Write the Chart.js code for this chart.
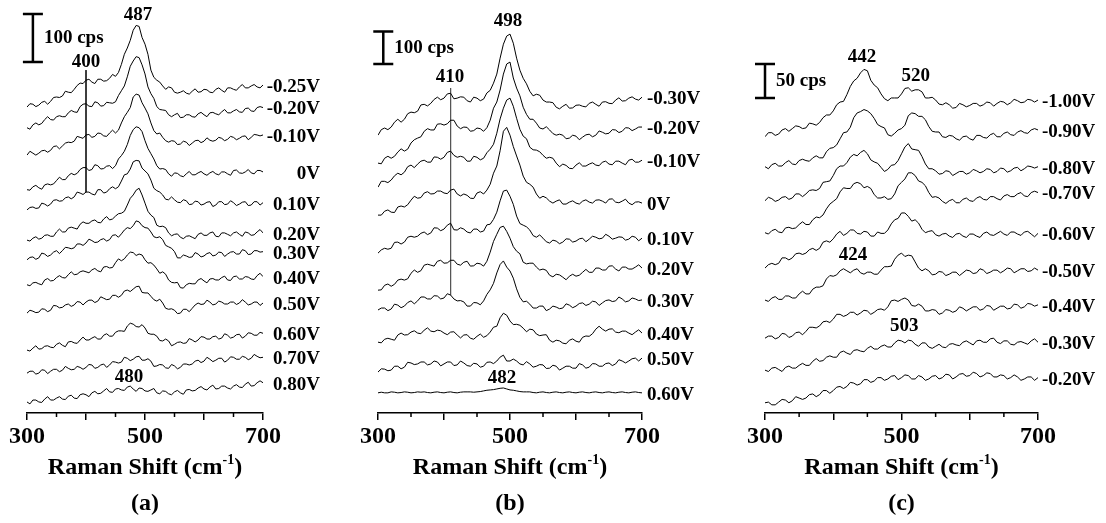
<!DOCTYPE html>
<html lang="en">
<head>
<meta charset="UTF-8">
<title>Raman spectra at different potentials</title>
<script src="https://cdn.jsdelivr.net/npm/chart.js"></script>
<style>
    body { margin: 0; background: #fff; }
    #wrap { position: relative; width: 1106px; height: 523px; background: #fff; overflow: hidden; }
    #wrap canvas { position: absolute; top: 0; }
</style>
</head>
<body>
<div id="wrap">
    <canvas id="panelA" width="340" height="523" style="left:0px"></canvas>
    <canvas id="panelB" width="370" height="523" style="left:340px"></canvas>
    <canvas id="panelC" width="396" height="523" style="left:710px"></canvas>
</div>
<script>
// Raman shift sampling (cm-1), shared by every spectrum
const shift = [300, 305, 310, 315, 320, 325, 330, 335, 340, 345, 350, 355, 360, 365, 370, 375, 380, 385, 390, 395,
               400, 405, 410, 415, 420, 425, 430, 435, 440, 445, 450, 455, 460, 465, 470, 475, 480, 485, 490, 495,
               500, 505, 510, 515, 520, 525, 530, 535, 540, 545, 550, 555, 560, 565, 570, 575, 580, 585, 590, 595,
               600, 605, 610, 615, 620, 625, 630, 635, 640, 645, 650, 655, 660, 665, 670, 675, 680, 685, 690, 695, 700];
const tickLabels = [300, 500, 700];
const minorTicks = [350, 450, 550, 650];

// (a) potentials, vertical offsets (cps) and intensities above offset (cps)
const potentialsA = ['-0.25V', '-0.20V', '-0.10V', '0V', '0.10V', '0.20V', '0.30V', '0.40V', '0.50V', '0.60V', '0.70V', '0.80V'];
const offsetsA = [637, 594, 537, 465, 423, 360, 319, 267, 208, 131, 83, 23];
const spectraA = [
    [0,7,6,1,4,10,12,6,12,20,21,20,23,33,31,30,37,45,50,49,56,58,52,49,58,58,54,55,60,68,64,72,89,110,123,139,160,170,168,145,131,110,77,62,56,52,44,37,42,40,31,29,31,34,29,27,33,38,31,32,37,36,31,30,37,40,35,31,40,40,37,35,42,47,40,40,44,47,42,40,46],
    [0,-3,6,10,6,9,17,23,17,16,23,25,23,23,31,36,33,32,44,49,50,45,44,54,52,45,46,53,52,51,54,67,77,87,106,128,139,148,146,131,112,85,71,61,44,38,37,36,27,23,27,30,21,22,27,27,23,22,29,32,27,23,31,32,29,27,33,38,31,31,35,38,33,32,40,41,35,34,42,44,42],
    [0,8,4,0,4,9,10,6,10,18,19,13,19,25,27,26,29,39,37,35,42,43,37,39,46,45,40,39,46,52,46,52,67,80,89,99,121,127,125,109,98,86,67,51,44,46,37,30,27,30,29,22,23,29,27,20,25,30,31,26,29,36,31,29,31,37,35,30,33,39,37,32,35,39,40,32,37,43,42,40,42],
    [0,-1,6,9,4,1,10,12,10,12,19,26,21,21,29,34,31,34,42,46,46,40,42,52,50,43,44,49,50,44,50,64,71,80,94,113,125,131,129,121,102,86,75,64,50,43,44,42,33,28,35,34,29,27,33,38,31,31,35,38,33,30,35,38,33,31,37,37,33,30,40,41,35,34,37,42,35,33,40,40,37],
    [0,5,6,3,4,14,12,8,12,20,21,18,19,25,27,23,27,37,35,32,37,37,33,31,42,42,35,37,44,48,44,48,60,73,75,85,100,103,102,87,81,75,62,45,40,37,31,22,21,27,21,16,15,21,19,11,12,18,17,10,12,16,17,7,10,17,17,11,12,19,15,9,12,16,17,9,10,17,17,10,15],
    [0,-2,4,7,2,4,10,11,8,8,17,23,17,17,25,27,25,23,33,38,35,35,40,42,37,36,44,49,42,44,50,55,56,60,73,87,94,104,108,94,77,60,52,47,31,28,29,26,15,9,12,13,6,3,8,9,6,3,12,15,10,10,15,17,8,7,15,15,12,9,15,17,12,8,17,15,10,11,17,22,15],
    [0,5,6,1,4,14,12,7,10,16,19,13,19,26,25,23,25,33,33,30,35,43,40,36,37,42,44,39,42,51,52,47,54,62,67,65,71,81,79,71,67,66,58,48,46,48,42,30,27,24,17,4,4,10,8,5,6,15,12,6,8,13,15,8,10,16,15,7,12,16,17,12,12,21,19,11,12,19,19,16,17],
    [0,-2,4,5,2,0,10,13,8,9,15,19,15,14,21,27,21,22,27,29,27,25,31,34,29,27,37,38,35,36,46,54,50,54,62,68,67,61,64,62,52,45,46,41,33,24,27,22,10,5,4,5,-6,-7,0,3,2,2,10,13,8,4,12,13,10,10,15,18,10,9,17,18,12,12,17,16,12,11,19,24,17],
    [0,6,4,1,2,9,8,3,6,16,15,11,12,17,19,14,17,24,23,17,23,27,27,22,25,34,31,28,29,37,37,33,37,46,48,45,50,55,56,43,42,42,35,28,25,29,21,10,8,9,6,-1,0,8,8,3,10,17,21,18,19,27,23,17,19,25,23,19,19,23,23,18,21,28,23,17,19,23,23,16,21],
    [0,-2,4,9,2,3,8,9,6,5,12,15,10,7,17,18,15,14,21,27,21,21,25,28,23,23,31,34,29,29,37,40,40,39,50,56,54,49,48,53,46,35,33,33,29,20,19,23,19,9,12,16,17,14,15,24,21,17,21,28,27,23,23,28,29,23,25,34,31,25,27,32,33,25,29,36,35,31,31,37,35],
    [0,4,4,-2,0,7,6,-1,4,8,8,3,6,14,10,7,8,14,12,8,12,18,17,10,12,17,19,12,17,24,23,21,23,33,31,26,29,34,35,27,27,30,25,14,15,18,17,11,10,18,15,9,12,19,19,17,19,25,27,22,25,33,29,24,27,31,31,23,27,34,33,29,29,35,33,28,31,39,35,32,33],
    [0,-4,4,4,0,-1,6,11,4,4,8,11,6,5,12,14,8,7,15,17,15,11,19,22,17,18,23,28,21,20,27,28,25,24,31,33,27,22,29,28,23,22,25,28,19,17,23,22,17,15,21,24,19,16,25,26,23,24,29,32,27,25,31,35,27,28,33,33,29,27,33,36,31,30,37,41,33,34,40,44,40]
];

// (b)
const potentialsB = ['-0.30V', '-0.20V', '-0.10V', '0V', '0.10V', '0.20V', '0.30V', '0.40V', '0.50V', '0.60V'];
const offsetsB = [855, 769, 695, 609, 492, 378, 317, 218, 126, 62];
const spectraB = [
    [0,17,22,17,25,40,49,40,49,66,71,69,74,93,95,90,98,110,117,109,114,127,129,112,114,118,117,106,102,117,114,106,111,130,138,160,188,237,280,305,311,283,237,200,175,158,135,121,126,123,108,102,102,100,86,81,89,95,83,84,92,93,89,87,98,102,95,89,102,103,98,97,108,115,105,106,114,118,111,108,117],
    [0,-2,15,21,15,21,34,44,37,43,62,72,77,81,98,106,102,102,120,121,117,121,132,132,114,106,111,110,98,100,108,106,98,109,132,169,188,225,274,305,311,262,231,207,172,150,135,135,123,108,105,112,102,91,86,89,86,75,77,86,83,72,80,87,89,81,86,99,95,90,92,103,102,94,98,109,108,100,105,111,111],
    [0,18,18,14,22,35,43,38,46,63,68,60,71,80,83,77,77,93,92,86,92,107,111,98,92,95,92,80,80,95,92,84,89,106,117,132,166,210,243,268,274,249,212,178,157,149,123,115,114,109,98,89,92,89,74,63,71,67,58,57,68,75,65,65,71,75,68,66,77,80,71,69,80,80,74,69,83,86,77,77,83],
    [0,0,12,16,9,8,25,28,25,32,46,58,52,54,68,72,65,66,74,74,68,66,77,80,65,59,65,61,52,51,68,72,65,77,95,129,151,198,258,270,246,211,182,154,120,101,95,86,65,52,58,53,43,37,43,47,34,34,40,44,37,34,43,47,40,37,46,47,43,37,49,50,40,38,43,49,37,32,40,41,37],
    [0,10,15,12,15,33,34,28,34,49,52,49,52,61,65,57,62,78,77,69,74,86,92,72,71,78,74,65,62,74,74,65,68,87,89,104,126,161,191,194,175,150,114,91,86,81,71,54,49,56,46,35,31,40,37,29,34,44,43,34,37,44,46,35,43,52,49,44,46,58,52,43,46,50,49,40,43,52,49,38,46],
    [0,1,15,19,12,18,31,34,31,35,52,62,55,60,77,80,77,74,89,92,83,84,92,92,80,77,86,89,74,75,83,81,74,89,117,150,172,193,197,181,160,134,120,112,86,81,83,83,71,62,65,61,46,41,49,47,40,32,43,49,43,46,55,64,55,55,68,68,62,62,74,75,65,59,71,71,65,65,71,78,68],
    [0,6,6,-2,3,18,15,7,12,23,28,19,28,40,40,34,34,44,43,34,37,50,46,34,28,29,25,12,12,23,22,16,28,48,62,82,114,140,151,132,120,98,65,39,25,27,18,6,6,12,12,-2,3,12,9,4,6,19,15,7,12,20,22,14,18,27,25,14,22,29,31,26,28,40,34,25,28,37,34,29,31],
    [0,-2,9,12,9,6,22,28,22,23,31,35,28,26,37,44,34,32,37,35,28,23,31,32,22,13,22,23,12,9,18,25,15,20,31,46,49,75,89,83,65,54,55,52,43,32,40,38,25,20,22,23,6,0,6,4,-3,-5,6,10,3,0,15,19,18,26,40,49,40,34,40,41,31,29,34,34,28,23,31,38,28],
    [0,10,9,4,6,18,18,10,15,30,28,23,25,31,31,22,25,34,31,19,25,31,31,20,22,34,28,20,18,27,25,15,18,30,31,26,34,46,52,34,34,40,34,25,22,32,25,15,18,23,22,11,12,21,18,6,12,18,18,12,12,26,22,12,15,26,25,18,18,26,28,20,25,38,34,28,34,41,43,34,43],
    [0,2,0,0,3,2,0,1,3,2,0,1,3,2,3,1,0,2,3,1,0,2,3,1,0,2,3,3,3,2,3,4,6,8,9,10,12,14,15,12,9,8,6,4,3,3,3,1,0,2,3,1,0,2,3,1,0,2,3,1,0,2,3,1,0,2,3,1,0,2,3,1,0,2,3,1,0,2,3,1,0]
];

// (c)
const potentialsC = ['-1.00V', '-0.90V', '-0.80V', '-0.70V', '-0.60V', '-0.50V', '-0.40V', '-0.30V', '-0.20V'];
const offsetsC = [406, 362, 312, 265, 213, 166, 110, 63, 15];
const spectraC = [
    [0,6,6,2,4,10,12,8,12,16,15,12,13,20,19,17,21,28,32,32,38,47,51,52,62,74,82,86,94,99,97,83,76,72,63,56,53,57,57,57,63,71,72,67,69,69,66,57,57,58,54,48,47,50,47,42,43,49,47,44,46,49,49,45,47,51,50,45,49,52,51,47,50,55,53,50,51,55,54,51,54],
    [0,-3,3,5,1,1,6,9,4,3,9,11,9,8,13,16,13,13,22,27,28,32,41,50,51,58,72,79,81,84,82,78,71,62,59,57,47,45,49,54,56,61,75,79,78,74,74,69,59,52,51,51,44,43,46,45,41,39,44,45,41,39,46,46,43,42,47,49,44,44,49,51,47,46,51,53,50,49,54,56,54],
    [0,5,3,-1,1,5,6,2,4,10,10,6,10,15,16,15,18,27,28,29,37,47,51,51,56,64,68,66,71,74,69,60,57,55,49,43,46,52,53,59,69,79,84,76,75,74,65,54,47,47,44,39,40,44,43,37,40,43,43,39,41,46,44,41,43,47,46,41,43,48,47,42,44,48,49,44,47,51,50,48,50],
    [0,-2,3,5,1,0,7,8,6,7,12,16,12,12,19,23,22,26,35,42,46,50,60,66,65,65,72,74,72,66,68,65,56,51,51,53,49,50,57,69,74,79,88,88,84,76,74,69,59,52,53,51,46,43,47,49,44,44,49,51,47,46,51,53,49,48,53,53,50,48,54,56,53,53,57,59,54,53,59,61,59],
    [0,5,7,5,7,15,15,12,15,21,22,20,22,27,29,26,29,38,40,38,43,50,54,48,51,56,56,51,50,54,53,47,47,53,51,51,56,65,71,73,81,81,76,69,71,66,57,52,54,55,49,47,50,51,47,45,50,51,47,45,50,50,47,45,51,53,49,48,51,54,50,48,53,53,50,48,53,54,50,46,51],
    [0,-2,3,5,1,1,6,6,3,3,9,13,9,9,16,19,19,21,31,36,35,37,43,46,43,40,44,46,40,38,41,41,38,38,44,49,49,50,60,66,69,64,66,65,56,47,43,46,43,37,38,42,41,36,38,41,41,36,40,44,43,39,40,46,44,39,41,44,44,40,43,47,46,40,43,46,46,42,43,47,44],
    [0,3,3,-1,1,7,6,1,3,8,9,5,10,16,16,15,18,24,25,23,28,35,35,32,34,38,38,34,37,41,40,35,38,42,43,41,46,55,56,54,57,59,56,48,47,50,47,40,40,42,41,35,37,42,41,38,40,46,44,40,43,46,46,41,43,48,47,41,44,47,47,43,44,50,49,44,46,51,50,47,49],
    [0,-2,3,4,1,-2,4,6,3,3,7,10,7,7,13,17,13,14,19,21,19,19,26,28,25,23,29,30,28,27,32,35,31,31,35,37,34,34,40,44,43,40,44,43,38,35,40,40,34,32,35,38,34,33,38,39,37,36,41,43,40,37,43,44,41,41,46,47,41,39,43,43,38,37,41,42,40,38,43,46,41],
    [0,1,-3,-3,1,5,4,0,3,9,7,5,7,12,13,9,12,18,18,14,18,23,24,21,24,30,29,26,28,34,34,30,32,37,37,33,35,39,40,34,37,41,40,35,35,40,38,33,35,39,40,35,37,42,41,35,38,42,43,39,40,45,43,38,40,44,43,38,38,41,40,35,37,41,38,33,35,38,38,33,37]
];

const serif = '"Liberation Serif", "Times New Roman", serif';

// scale bar, peak labels, potential labels, axis title
const decor = {
    id: 'decor',
    afterDraw(chart, args, o) {
        const { ctx, chartArea: ca, scales: { x, y } } = chart;
        ctx.save();
        ctx.fillStyle = '#000';
        ctx.strokeStyle = '#000';

        // minor ticks
        ctx.lineWidth = 1.5;
        ctx.beginPath();
        minorTicks.forEach(v => {
            const px = x.getPixelForValue(v);
            ctx.moveTo(px, ca.bottom);
            ctx.lineTo(px, ca.bottom + 4);
        });
        ctx.stroke();

        // potential labels at the right end of each trace
        ctx.font = 'bold 19px ' + serif;
        ctx.textBaseline = 'middle';
        ctx.textAlign = o.labelAlign;
        chart.data.datasets.forEach(ds => {
            if (!ds.label) return;
            const last = ds.data[ds.data.length - 1];
            ctx.fillText(ds.label, ca.right + o.labelDx, y.getPixelForValue(last.y) + 2);
        });

        // peak position labels
        ctx.textAlign = 'center';
        o.peaks.forEach(p => ctx.fillText(p.t, x.getPixelForValue(p.x), y.getPixelForValue(p.y)));

        // intensity scale bar
        const b = o.bar;
        const bx = x.getPixelForValue(b.x);
        const y0 = y.getPixelForValue(b.from), y1 = y.getPixelForValue(b.from + b.cps);
        ctx.lineWidth = 2.5;
        ctx.beginPath();
        ctx.moveTo(bx, y0); ctx.lineTo(bx, y1);
        ctx.moveTo(bx - 10, y0); ctx.lineTo(bx + 10, y0);
        ctx.moveTo(bx - 10, y1); ctx.lineTo(bx + 10, y1);
        ctx.stroke();
        ctx.textAlign = 'left';
        ctx.fillText(b.cps + ' cps', bx + 11, (y0 + y1) / 2);

        // axis title with superscript, and panel letter
        const cx = (ca.left + ca.right) / 2;
        const ty = ca.bottom + 55;
        const t1 = 'Raman Shift (cm', sup = '-1', t2 = ')';
        ctx.font = 'bold 24px ' + serif;
        const w1 = ctx.measureText(t1).width, w2 = ctx.measureText(t2).width;
        ctx.font = 'bold 14px ' + serif;
        const ws = ctx.measureText(sup).width;
        const tx = cx - (w1 + ws + w2) / 2;
        ctx.textAlign = 'left';
        ctx.font = 'bold 24px ' + serif;
        ctx.fillText(t1, tx, ty);
        ctx.font = 'bold 14px ' + serif;
        ctx.fillText(sup, tx + w1, ty - 8);
        ctx.font = 'bold 24px ' + serif;
        ctx.fillText(t2, tx + w1 + ws, ty);
        ctx.textAlign = 'center';
        ctx.fillText(o.letter, cx, ca.bottom + 91);
        ctx.restore();
    }
};

function buildPanel(id, potentials, offsets, spectra, yMax, pad, deco, marker) {
    const datasets = spectra.map((vals, i) => ({
        label: potentials[i],
        data: shift.map((s, j) => ({ x: s, y: offsets[i] + vals[j] })),
        borderColor: '#000',
        borderWidth: 1,
        pointRadius: 0,
        tension: 0,
        fill: false
    }));
    if (marker) {
        const j = shift.indexOf(marker.x);
        datasets.push({
            label: '',
            data: [{ x: marker.x, y: marker.top }, { x: marker.x, y: offsets[marker.to] + spectra[marker.to][j] }],
            borderColor: marker.color,
            borderWidth: 1,
            pointRadius: 0
        });
    }
    new Chart(document.getElementById(id), {
        type: 'line',
        data: { datasets },
        options: {
            responsive: false,
            animation: false,
            devicePixelRatio: 1,
            layout: { padding: pad },
            plugins: { legend: { display: false }, tooltip: { enabled: false }, decor: deco },
            scales: {
                x: {
                    type: 'linear',
                    min: 300,
                    max: 700,
                    afterFit(s) { s.height = 40; },
                    border: { display: true, color: '#000', width: 1.5 },
                    grid: { drawOnChartArea: false, drawTicks: true, tickLength: 7, color: '#000', lineWidth: 1.5 },
                    ticks: {
                        stepSize: 100,
                        autoSkip: false,
                        maxRotation: 0,
                        padding: 2,
                        color: '#000',
                        font: { family: serif, size: 24, weight: 'bold' },
                        callback: v => tickLabels.includes(v) ? String(v) : ''
                    }
                },
                y: { display: false, min: 0, max: yMax }
            }
        },
        plugins: [decor]
    });
}

buildPanel('panelA', potentialsA, offsetsA, spectraA, 860,
    { left: 27, right: 77, top: 0, bottom: 70 },
    {
        labelAlign: 'right', labelDx: 57, letter: '(a)',
        bar: { x: 310, from: 731, cps: 100 },
        peaks: [{ t: '487', x: 488, y: 829 }, { t: '400', x: 400, y: 731 }, { t: '480', x: 473, y: 75 }]
    },
    { x: 400, top: 714, to: 4, color: '#222' });

buildPanel('panelB', potentialsB, offsetsB, spectraB, 1271,
    { left: 38, right: 68, top: 0, bottom: 70 },
    {
        labelAlign: 'left', labelDx: 5, letter: '(b)',
        bar: { x: 308, from: 1074, cps: 100 },
        peaks: [{ t: '498', x: 497, y: 1206 }, { t: '410', x: 409, y: 1034 }, { t: '482', x: 488, y: 108 }]
    },
    { x: 410, top: 1000, to: 6, color: '#555' });

buildPanel('panelC', potentialsC, offsetsC, spectraC, 607,
    { left: 55, right: 68, top: 0, bottom: 70 },
    {
        labelAlign: 'left', labelDx: 4, letter: '(c)',
        bar: { x: 300, from: 463, cps: 50 },
        peaks: [{ t: '442', x: 442, y: 523 }, { t: '520', x: 521, y: 495 }, { t: '424', x: 429, y: 232 }, { t: '503', x: 504, y: 128 }]
    },
    null);
</script>
</body>
</html>
